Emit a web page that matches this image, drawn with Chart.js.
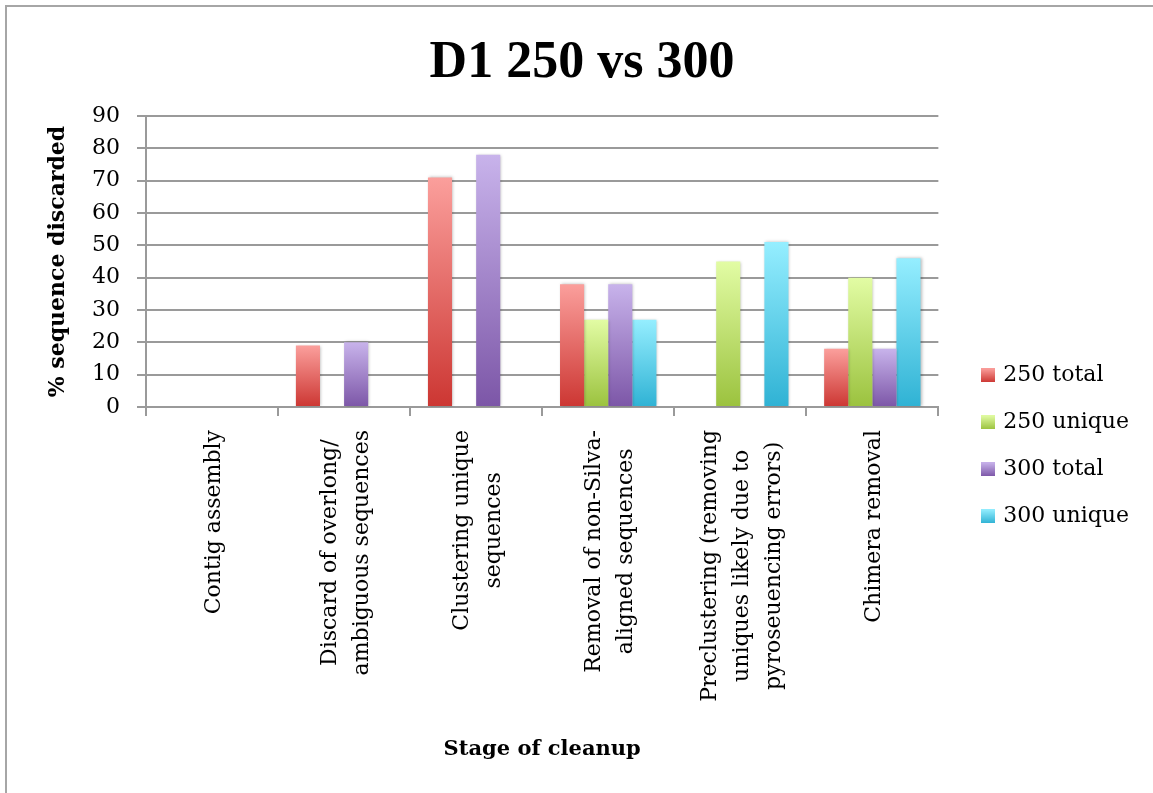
<!DOCTYPE html>
<html>
<head>
<meta charset="utf-8">
<script src="https://cdn.jsdelivr.net/npm/chart.js@4.4.1/dist/chart.umd.min.js"></script>
<style>
  html, body { margin: 0; padding: 0; background: #fff; }
  #wrap { position: relative; width: 1153px; height: 793px; overflow: hidden; }
  #frame { position: absolute; left: 5px; top: 5px; width: 1300px; height: 900px;
           border-top: 2px solid #a6a6a6; border-left: 2px solid #a6a6a6; }
  #c { position: absolute; left: 0; top: 0; }
</style>
</head>
<body>
<div id="wrap">
  <div id="frame"></div>
  <canvas id="c" width="1153" height="793"></canvas>
</div>
<script>
// Cleanup stages (multi-line category labels)
const stages = [
  ["Contig assembly"],
  ["Discard of overlong/", "ambiguous sequences"],
  ["Clustering unique", "sequences"],
  ["Removal of non-Silva-", "aligned sequences"],
  ["Preclustering (removing", "uniques likely due to", "pyroseuencing errors)"],
  ["Chimera removal"]
];

const seriesNames = ["250 total", "250 unique", "300 total", "300 unique"];

// % of sequences discarded at each stage
const total250  = [0, 19, 71, 38, 0, 18];
const unique250 = [0, 0, 0, 27, 45, 40];
const total300  = [0, 20, 78, 38, 0, 18];
const unique300 = [0, 0, 0, 27, 51, 46];

const yMin = 0, yMax = 90, yStep = 10;

const chartTitle = "D1 250 vs 300";
const yTitle = "% sequence discarded";
const xTitle = "Stage of cleanup";

// Vertical gradient shades for each series (light top -> dark base)
const shades = [
  { top: "#fb9f9c", mid: "#e5625e", bottom: "#cc3632" },
  { top: "#e2fca4", mid: "#c2e078", bottom: "#9bc23e" },
  { top: "#c8b3eb", mid: "#a487cc", bottom: "#7c56a7" },
  { top: "#95eeff", mid: "#5fd0ea", bottom: "#2fb2d4" }
];

const SERIF = '"DejaVu Serif", "Liberation Serif", serif';

function barFill(i) {
  return (c) => {
    const chart = c.chart;
    const s = shades[i];
    if (c.type !== "data" || !chart.chartArea || !c.parsed) return s.mid;
    const v = c.parsed.y;
    if (v == null || v === 0) return s.mid;
    const ys = chart.scales.y;
    const top = ys.getPixelForValue(v);
    const base = ys.getPixelForValue(0);
    const g = chart.ctx.createLinearGradient(0, top, 0, base);
    g.addColorStop(0, s.top);
    g.addColorStop(1, s.bottom);
    return g;
  };
}

function swatch(s) {
  const cv = document.createElement("canvas");
  cv.width = 14; cv.height = 14;
  const x = cv.getContext("2d");
  const g = x.createLinearGradient(0, 0, 0, 14);
  g.addColorStop(0, s.top);
  g.addColorStop(1, s.bottom);
  x.fillStyle = g;
  x.fillRect(0, 0, 14, 14);
  return cv;
}
const swatches = shades.map(swatch);

// Soft drop shadow under the bars
const barShadow = {
  id: "barShadow",
  beforeDatasetsDraw(chart) {
    const ctx = chart.ctx;
    ctx.save();
    ctx.shadowColor = "rgba(0,0,0,0.28)";
    ctx.shadowBlur = 3;
    ctx.shadowOffsetX = 1;
    ctx.shadowOffsetY = 0;
  },
  afterDatasetsDraw(chart) {
    chart.ctx.restore();
  }
};

// Empty column between the plot and the legend; title centred a little right of the canvas middle
const gutter = {
  id: "gutter",
  beforeInit(chart) {
    Chart.layouts.addBox(chart, {
      position: "right", weight: 500, fullSize: false,
      options: {},
      left: 0, top: 0, right: 0, bottom: 0, width: 0, height: 0,
      isHorizontal() { return false; },
      update(maxWidth, maxHeight) { this.width = 21; this.height = maxHeight; },
      draw() {}
    });
  },
  afterLayout(chart) {
    const t = chart.titleBlock;
    if (t) { t.left += 12.5; t.right += 12.5; }
  }
};

// Vertical category labels, lines centred on each other, block ending near the axis
const stageLabels = {
  id: "stageLabels",
  afterDraw(chart) {
    const xs = chart.scales.x;
    const ctx = chart.ctx;
    const lineGap = 32;
    ctx.save();
    ctx.font = "22px " + SERIF;
    ctx.fillStyle = "#000";
    ctx.textAlign = "center";
    ctx.textBaseline = "middle";
    chart.data.labels.forEach((lines, i) => {
      const cx = xs.getPixelForTick(i) + 2;
      const maxW = Math.max(...lines.map(l => ctx.measureText(l).width));
      const cy = xs.top + 23 + maxW / 2;
      const n = lines.length;
      lines.forEach((line, j) => {
        ctx.save();
        ctx.translate(cx + (j - (n - 1) / 2) * lineGap, cy);
        ctx.rotate(-Math.PI / 2);
        ctx.fillText(line, 0, 0);
        ctx.restore();
      });
    });
    ctx.restore();
  }
};

const seriesData = [total250, unique250, total300, unique300];

const gridColor = "#9a9a9a";

new Chart(document.getElementById("c"), {
  type: "bar",
  data: {
    labels: stages,
    datasets: seriesData.map((d, i) => ({
      label: seriesNames[i],
      data: d,
      backgroundColor: barFill(i),
      borderWidth: 0,
      barPercentage: 1,
      categoryPercentage: 0.73
    }))
  },
  plugins: [gutter, barShadow, stageLabels],
  options: {
    responsive: false,
    animation: false,
    devicePixelRatio: 1,
    layout: { padding: { top: 0, left: 0, right: 14, bottom: 24 } },
    plugins: {
      tooltip: { enabled: false },
      title: {
        display: true,
        text: chartTitle,
        color: "#000",
        font: { family: '"Liberation Serif", serif', size: 52, weight: "bold" },
        padding: { top: 32, bottom: 21.6 }
      },
      legend: {
        position: "right",
        align: "start",
        title: { display: true, text: "", font: { size: 12 }, padding: { top: 325, bottom: 0 } },
        labels: {
          usePointStyle: true,
          pointStyleWidth: 8,
          boxHeight: 14,
          padding: 25,
          color: "#000",
          font: { family: SERIF, size: 22 },
          generateLabels(chart) {
            const items = Chart.defaults.plugins.legend.labels.generateLabels(chart);
            items.forEach((it, i) => {
              it.pointStyle = swatches[i];
              it.lineWidth = 0;
            });
            return items;
          }
        }
      }
    },
    scales: {
      x: {
        offset: true,
        grid: {
          display: true, drawOnChartArea: false, drawTicks: true,
          tickLength: 9, color: gridColor, lineWidth: 2, offset: true
        },
        border: { display: true, color: gridColor, width: 2 },
        ticks: { display: false },
        title: {
          display: true, text: xTitle, color: "#000",
          font: { family: SERIF, size: 21, weight: "bold" },
          padding: { top: 0, bottom: 7 }
        },
        afterFit(scale) { scale.height = 362; }
      },
      y: {
        min: yMin, max: yMax,
        grid: { color: gridColor, lineWidth: 2, drawTicks: true, tickLength: 9 },
        border: { display: true, color: gridColor, width: 2 },
        ticks: {
          stepSize: yStep, padding: 17, color: "#000",
          font: { family: SERIF, size: 22 }
        },
        title: {
          display: true, text: yTitle, color: "#000",
          font: { family: SERIF, size: 22, weight: "bold" },
          padding: { top: 45, bottom: 0 }
        },
        afterFit(scale) { scale.width = 146; }
      }
    }
  }
});
</script>
</body>
</html>
